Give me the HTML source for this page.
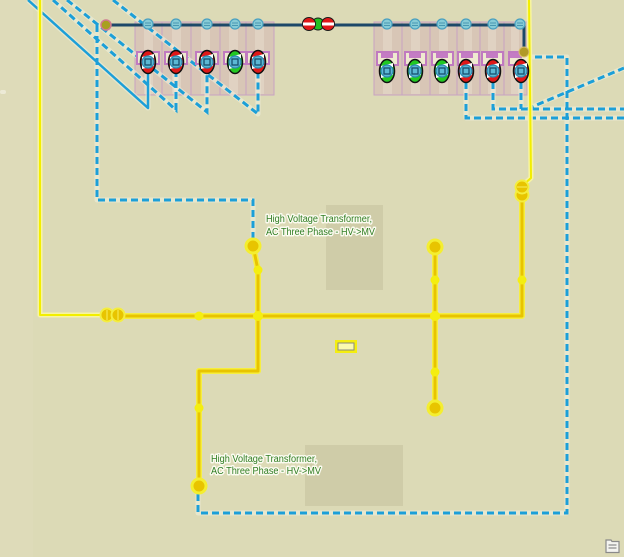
<!DOCTYPE html>
<html><head><meta charset="utf-8"><style>
html,body{margin:0;padding:0;background:#dcdab6;}
svg{display:block}
text{font-family:"Liberation Sans",sans-serif;font-size:10px;fill:#2f7d22;stroke:#fbfbf0;stroke-width:3px;paint-order:stroke;stroke-linejoin:round}
</style></head><body>
<svg width="624" height="557" viewBox="0 0 624 557" xmlns="http://www.w3.org/2000/svg">
<rect width="624" height="557" fill="#dcdab6"/>
<rect x="0" y="0" width="33" height="557" fill="#dedbb9"/>
<rect x="0" y="90" width="6" height="4" rx="2" fill="#ecead6"/>

<!-- gray footprints -->
<rect x="326" y="205" width="57" height="85" fill="#cfcca8"/>
<rect x="305" y="445" width="98" height="61" fill="#cfcca8"/>

<!-- panels -->
<g stroke="#c7a3c3" stroke-width="1">
<rect x="135" y="22" width="27" height="73" fill="#d8c6b6"/>
<rect x="162" y="22" width="29" height="73" fill="#d8c6b6"/>
<rect x="191" y="22" width="29" height="73" fill="#d8c6b6"/>
<rect x="220" y="22" width="26" height="73" fill="#d8c6b6"/>
<rect x="246" y="22" width="28" height="73" fill="#d8c6b6"/>
<rect x="374" y="22" width="28" height="73" fill="#d8c6b6"/>
<rect x="402" y="22" width="28" height="73" fill="#d8c6b6"/>
<rect x="430" y="22" width="27" height="73" fill="#d8c6b6"/>
<rect x="457" y="22" width="23" height="73" fill="#d8c6b6"/>
<rect x="480" y="22" width="24" height="73" fill="#d8c6b6"/>
<rect x="504" y="22" width="23" height="73" fill="#d8c6b6"/>
</g>
<g fill="#e0d2c2">
<rect x="144" y="23" width="9" height="71"/><rect x="172" y="23" width="9" height="71"/><rect x="201" y="23" width="9" height="71"/><rect x="229" y="23" width="9" height="71"/><rect x="255" y="23" width="9" height="71"/>
<rect x="383" y="23" width="9" height="71"/><rect x="411" y="23" width="9" height="71"/><rect x="439" y="23" width="9" height="71"/><rect x="464" y="23" width="8" height="71"/><rect x="488" y="23" width="8" height="71"/><rect x="511" y="23" width="8" height="71"/>
</g>

<!-- blue lines halo -->
<g fill="none" stroke="#eef0dc" stroke-width="5" stroke-opacity="0.6" stroke-linejoin="round">
<polyline points="28,0 148,108 148,73"/>
<polyline points="53,0 176,110 176,73"/>
<polyline points="67,0 207,112 207,73"/>
<polyline points="113,0 258,114 258,73"/>
<polyline points="97,25 97,200 253,200 253,240"/>
<polyline points="466,82 466,118 624,118"/>
<polyline points="493,82 493,109 624,109"/>
<polyline points="527,109 624,68"/>
<polyline points="521,82 521,109"/>
<polyline points="524,57 567,57 567,513 198,513 198,490"/>
</g>
<polyline points="28,0 148,108 148,73" fill="none" stroke="#1c9fd8" stroke-width="2.5" stroke-linejoin="round"/>
<g fill="none" stroke="#1c9fd8" stroke-width="3" stroke-dasharray="7,4">
<polyline points="53,0 176,110 176,73"/>
<polyline points="67,0 207,112 207,73"/>
<polyline points="113,0 258,114 258,73"/>
<polyline points="97,25 97,200 253,200 253,240"/>
<polyline points="466,82 466,118 624,118"/>
<polyline points="493,82 493,109 624,109"/>
<polyline points="527,109 624,68"/>
<polyline points="521,82 521,109"/>
<polyline points="524,57 567,57 567,513 198,513 198,490"/>
</g>

<!-- boxes -->
<g stroke="#c07ac0" stroke-width="2" fill="#efead0">
<rect x="137" y="52" width="22" height="12"/><rect x="165" y="52" width="22" height="12"/><rect x="196" y="52" width="22" height="12"/><rect x="224" y="52" width="22" height="12"/><rect x="247" y="52" width="22" height="12"/>
<rect x="377" y="52" width="21" height="13"/><rect x="405" y="52" width="21" height="13"/><rect x="432" y="52" width="21" height="13"/><rect x="458" y="52" width="21" height="13"/><rect x="482" y="52" width="21" height="13"/><rect x="509" y="52" width="20" height="13"/>
</g>
<g fill="#c47cc4">
<rect x="381" y="53" width="12" height="5"/><rect x="409" y="53" width="12" height="5"/><rect x="436" y="53" width="12" height="5"/><rect x="461" y="53" width="12" height="5"/><rect x="486" y="53" width="12" height="5"/><rect x="510" y="53" width="12" height="5"/>
</g>

<!-- thin yellow -->
<g fill="none" stroke-linejoin="round">
<polyline points="40,0 40,315 105,315" stroke="#f7f4a0" stroke-width="5"/>
<polyline points="40,0 40,315 105,315" stroke="#f2ee00" stroke-width="2"/>
<polyline points="529,0 531,178 522,186" stroke="#f7f4a0" stroke-width="5"/>
<polyline points="529,0 531,178 522,186" stroke="#f2ee00" stroke-width="2"/>
</g>

<!-- bus -->
<polyline points="106,25 524,25 524,52" fill="none" stroke="#1d4868" stroke-width="3"/>
<g stroke="#4aa0c0" stroke-width="1.2" fill="#86cbd6">
<circle cx="148" cy="24" r="5"/><circle cx="176" cy="24" r="5"/><circle cx="207" cy="24" r="5"/><circle cx="235" cy="24" r="5"/><circle cx="258" cy="24" r="5"/>
<circle cx="387" cy="24" r="5"/><circle cx="415" cy="24" r="5"/><circle cx="442" cy="24" r="5"/><circle cx="466" cy="24" r="5"/><circle cx="493" cy="24" r="5"/><circle cx="520" cy="24" r="5"/>
</g>
<g stroke="#3a8aa8" stroke-width="0.8">
<line x1="145" y1="23" x2="151" y2="23"/><line x1="145" y1="25.5" x2="151" y2="25.5"/>
<line x1="173" y1="23" x2="179" y2="23"/><line x1="173" y1="25.5" x2="179" y2="25.5"/>
<line x1="204" y1="23" x2="210" y2="23"/><line x1="204" y1="25.5" x2="210" y2="25.5"/>
<line x1="232" y1="23" x2="238" y2="23"/><line x1="232" y1="25.5" x2="238" y2="25.5"/>
<line x1="255" y1="23" x2="261" y2="23"/><line x1="255" y1="25.5" x2="261" y2="25.5"/>
<line x1="384" y1="23" x2="390" y2="23"/><line x1="384" y1="25.5" x2="390" y2="25.5"/>
<line x1="412" y1="23" x2="418" y2="23"/><line x1="412" y1="25.5" x2="418" y2="25.5"/>
<line x1="439" y1="23" x2="445" y2="23"/><line x1="439" y1="25.5" x2="445" y2="25.5"/>
<line x1="463" y1="23" x2="469" y2="23"/><line x1="463" y1="25.5" x2="469" y2="25.5"/>
<line x1="490" y1="23" x2="496" y2="23"/><line x1="490" y1="25.5" x2="496" y2="25.5"/>
<line x1="517" y1="23" x2="523" y2="23"/><line x1="517" y1="25.5" x2="523" y2="25.5"/>
</g>
<circle cx="106" cy="25" r="5" fill="#a8a020" stroke="#d07a90" stroke-width="1.5"/>
<circle cx="524" cy="52" r="5" fill="#b09a28" stroke="#d8c070" stroke-width="1"/>
<!-- switch -->
<g stroke="#1a1a1a" stroke-width="1">
<circle cx="318" cy="24" r="6" fill="#22c022"/>
<circle cx="309" cy="24" r="6.5" fill="#e01818"/>
<circle cx="328" cy="24" r="6.5" fill="#e01818"/>
</g>
<rect x="303" y="22.5" width="12" height="3" fill="#fff"/>
<rect x="322" y="22.5" width="12" height="3" fill="#fff"/>

<!-- breakers -->
<defs>
<g id="br">
<ellipse cx="0" cy="0" rx="7.5" ry="11.5" fill="#e01818" stroke="#111" stroke-width="1.5"/>
<path d="M-6,-5 L6,-8 L6,-4 L-6,-1Z M-6,3 L6,0 L6,4 L-6,7Z" fill="#fff"/>
<circle cx="0" cy="0" r="6" fill="#5cb8d4" stroke="#2a88b0" stroke-width="1.2"/>
<rect x="-3" y="-3" width="6" height="6" fill="none" stroke="#17506e" stroke-width="1.3"/>
</g>
<g id="bg">
<ellipse cx="0" cy="0" rx="7.5" ry="11.5" fill="#22c822" stroke="#111" stroke-width="1.5"/>
<path d="M-6,-5 L6,-8 L6,-4 L-6,-1Z M-6,3 L6,0 L6,4 L-6,7Z" fill="#fff"/>
<circle cx="0" cy="0" r="6" fill="#5cb8d4" stroke="#2a88b0" stroke-width="1.2"/>
<rect x="-3" y="-3" width="6" height="6" fill="none" stroke="#17506e" stroke-width="1.3"/>
</g>
</defs>
<use href="#br" x="148" y="62"/><use href="#br" x="176" y="62"/><use href="#br" x="207" y="62"/><use href="#bg" x="235" y="62"/><use href="#br" x="258" y="62"/>
<use href="#bg" x="387" y="71"/><use href="#bg" x="415" y="71"/><use href="#bg" x="442" y="71"/><use href="#br" x="466" y="71"/><use href="#br" x="493" y="71"/><use href="#br" x="521" y="71"/>

<!-- thick yellow -->
<g fill="none" stroke-linejoin="round">
<g stroke="#f6ee40" stroke-width="6">
<polyline points="118,316 522,316 522,192"/>
<polyline points="253,246 258,270 258,371 199,371 199,486"/>
<polyline points="435,247 435,408"/>
</g>
<g stroke="#e8c400" stroke-width="3">
<polyline points="118,316 522,316 522,192"/>
<polyline points="253,246 258,270 258,371 199,371 199,486"/>
<polyline points="435,247 435,408"/>
</g>
</g>
<g fill="#f4ee10">
<circle cx="199" cy="316" r="4.5"/><circle cx="258" cy="316" r="5"/><circle cx="435" cy="316" r="5"/>
<circle cx="258" cy="270" r="4.5"/><circle cx="435" cy="280" r="4.5"/><circle cx="522" cy="280" r="4.5"/>
<circle cx="199" cy="408" r="4.5"/><circle cx="435" cy="372" r="4.5"/>
</g>
<!-- double circles -->
<g stroke="#f4ee40" stroke-width="2" fill="#e8c400">
<circle cx="107" cy="315" r="6.5"/><circle cx="118" cy="315" r="6.5"/>
<circle cx="522" cy="195" r="6.5"/><circle cx="522" cy="187" r="6.5"/>
</g>
<g stroke="#f8f060" stroke-width="1"><line x1="107" y1="310" x2="107" y2="320"/><line x1="118" y1="310" x2="118" y2="320"/><line x1="517" y1="187" x2="527" y2="187"/></g>
<!-- transformer circles -->
<g fill="#e8c400" stroke="#f4ee30" stroke-width="3">
<circle cx="253" cy="246" r="7"/><circle cx="435" cy="247" r="7"/><circle cx="435" cy="408" r="7"/><circle cx="199" cy="486" r="7"/>
</g>
<!-- small rect -->
<rect x="335" y="340" width="22" height="13" fill="#f4ee10"/>
<rect x="338" y="343" width="16" height="7" fill="#fafab0" stroke="#8a8a80" stroke-width="1"/>

<text x="266" y="222" textLength="106" lengthAdjust="spacingAndGlyphs">High Voltage Transformer,</text>
<text x="266" y="235" textLength="109" lengthAdjust="spacingAndGlyphs">AC Three Phase - HV-&gt;MV</text>
<text x="211" y="462" textLength="106" lengthAdjust="spacingAndGlyphs">High Voltage Transformer,</text>
<text x="211" y="474" textLength="110" lengthAdjust="spacingAndGlyphs">AC Three Phase - HV-&gt;MV</text>

<!-- icon -->
<g stroke="#8a8a8a" stroke-width="1.2" fill="#f4f4f0">
<path d="M606,540 h5 l1,1.5 h7 v11 h-13z"/>
<line x1="608.5" y1="545" x2="616.5" y2="545"/><line x1="608.5" y1="548" x2="616.5" y2="548"/>
</g>
</svg>
</body></html>
